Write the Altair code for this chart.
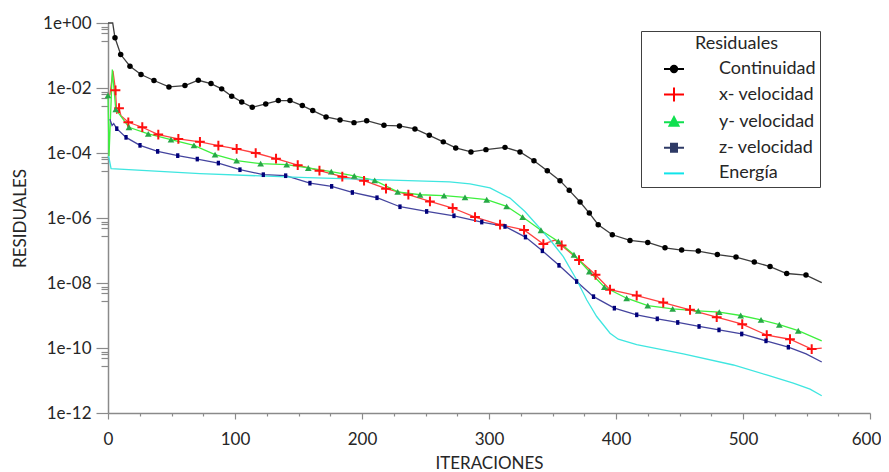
import altair as alt
import pandas as pd

SERIES = ["Continuidad", "x- velocidad", "y- velocidad", "z- velocidad", "Energía"]

# Continuidad
CONT_X = [0, 3.7, 5.5, 10, 17.3, 26, 36.2, 48, 60.6, 71.1, 81.1, 89.5, 97.4, 105.3, 113.6, 124.2,
          134.1, 143.3, 153, 161.2, 171.7, 182.7, 193.7, 203.7, 217.3, 229.5, 241.7, 253, 264,
          273.8, 285.8, 297.6, 312.6, 324.4, 335.4, 345.9, 355.9, 363.2, 371.7, 379, 386, 397.1,
          411, 425, 438.6, 451.7, 464.8, 479.8, 494.5, 508.9, 521.3, 534.4, 549.6, 562]
CONT_Y = [1.0, 1.0, 0.35, 0.107, 0.047, 0.026, 0.017, 0.0108, 0.0119, 0.0173, 0.0137, 0.0094,
          0.0056, 0.0037, 0.00255, 0.00324, 0.0041, 0.0041, 0.00288, 0.00202, 0.00129, 0.00104,
          0.00086, 0.00099, 0.00071, 0.00068, 0.00055, 0.00035, 0.00022, 0.000143, 0.000108,
          0.000127, 0.000149, 0.000108, 5.8e-5, 2.86e-5, 1.41e-5, 7.1e-6, 3.1e-6, 1.42e-6, 6.2e-7,
          3.05e-7, 2.04e-7, 1.77e-7, 1.21e-7, 1.03e-7, 9.6e-8, 7.5e-8, 6.3e-8, 4.4e-8, 3.2e-8,
          1.96e-8, 1.75e-8, 1.03e-8]
CONT_M = [0, 0] + [1] * 51 + [0]

# x- velocidad
XV_X = [1.5, 3.9, 5.9, 6.9, 8.7, 10.2, 16, 27, 39.6, 55.4, 72.4, 86.9, 101.3, 116.3, 132.3, 149.4,
        166.5, 184.5, 201.6, 218.9, 236.5, 253.5, 271.4, 289, 308.7, 327.6, 342.8, 352, 357.2,
        370.9, 383.9, 395.3, 416.3, 437.2, 458.3, 479.3, 499.4, 518.7, 537, 554.1, 562]
XV_Y = [6.0e-3, 0.034, 8.5e-3, 1.6e-3, 2.4e-3, 1.4e-3, 8.8e-4, 6.2e-4, 3.7e-4, 2.7e-4, 2.2e-4,
        1.68e-4, 1.33e-4, 1.0e-4, 6.7e-5, 4.2e-5, 2.86e-5, 1.87e-5, 1.4e-5, 8.0e-6, 5.2e-6,
        3.24e-6, 2.03e-6, 1.07e-6, 6.2e-7, 4.3e-7, 1.58e-7, 2.1e-7, 1.43e-7, 5.1e-8, 1.79e-8,
        6.2e-9, 4.1e-9, 2.5e-9, 1.49e-9, 8.9e-10, 5.4e-10, 2.5e-10, 1.86e-10, 9.3e-11, 9.9e-11]
XV_M = [0, 0, 1, 0, 1, 0, 1, 1, 1, 1, 1, 1, 1, 1, 1, 1, 1, 1, 1, 1, 1, 1, 1, 1, 1, 1, 1, 0, 1,
        1, 1, 1, 1, 1, 1, 1, 1, 1, 1, 1, 0]

# y- velocidad
YV_X = [0, 0.8, 3.4, 6.1, 16.5, 31.7, 49.6, 67.7, 84.3, 101.3, 120.2, 140.7, 157.7, 175.8, 193.9,
        210, 228.1, 245.7, 264.6, 281.1, 298.2, 313.9, 326.5, 340.9, 354.6, 366.9, 379, 390.8,
        408.4, 425, 444.6, 464.8, 481.3, 498.2, 514.2, 528.6, 543.5, 562]
YV_Y = [5.9e-3, 8.0e-5, 0.037, 2.2e-3, 6.2e-4, 3.86e-4, 2.58e-4, 1.72e-4, 8.9e-5, 5.8e-5, 4.7e-5,
        4.4e-5, 3.46e-5, 2.66e-5, 1.98e-5, 1.44e-5, 6.4e-6, 5.2e-6, 4.85e-6, 4.3e-6, 3.65e-6,
        2.27e-6, 1.07e-6, 4.2e-7, 1.9e-7, 7.4e-8, 2.26e-8, 7.5e-9, 3.4e-9, 2.0e-9, 1.6e-9,
        1.39e-9, 1.27e-9, 1.0e-9, 7.3e-10, 5.2e-10, 3.4e-10, 1.66e-10]
YV_M = [1, 0, 0] + [1] * 34 + [0]

# z- velocidad
ZV_X = [1.5, 3.2, 4.5, 6.9, 14.2, 25.2, 39.1, 54.9, 70.3, 86.9, 103.9, 122.3, 139.9, 159, 176.1,
        192.4, 211.8, 229.9, 250.9, 272.4, 294.3, 312.6, 328.7, 342, 355.1, 369, 382.3, 398.7,
        416.3, 432.5, 448.6, 465.4, 481.1, 499, 518.1, 535.7, 549.7, 562]
ZV_Y = [1.1e-3, 7.0e-4, 8.0e-4, 5.6e-4, 3.03e-4, 1.72e-4, 1.12e-4, 8.3e-5, 6.5e-5, 4.9e-5, 3.06e-5,
        2.15e-5, 2.0e-5, 1.18e-5, 9.4e-6, 6.1e-6, 4.2e-6, 2.22e-6, 1.59e-6, 1.17e-6, 7.5e-7,
        5.5e-7, 2.59e-7, 9.8e-8, 3.5e-8, 1.11e-8, 3.8e-9, 1.68e-9, 1.05e-9, 7.9e-10, 6.1e-10,
        4.6e-10, 3.6e-10, 2.7e-10, 1.66e-10, 1.06e-10, 6.6e-11, 3.7e-11]
ZV_M = [0, 0, 0] + [1] * 33 + [0, 0]

# Energía
EN_X = [0, 0.8, 2.4, 72.4, 151, 230, 269, 285, 300.8, 316.5, 328.3, 337.6, 348, 358.5, 369, 377,
        384.8, 395.3, 401.8, 416.3, 453, 492.4, 518.6, 539.6, 552.8, 562]
EN_Y = [8.0e-5, 7.0e-5, 3.3e-5, 2.31e-5, 1.78e-5, 1.44e-5, 1.3e-5, 1.13e-5, 8.4e-6, 4.1e-6, 1.59e-6,
        6.2e-7, 2.14e-7, 6.5e-8, 1.26e-8, 3.0e-9, 9.3e-10, 2.85e-10, 1.87e-10, 1.26e-10, 6.6e-11,
        3.0e-11, 1.48e-11, 8.3e-12, 5.4e-12, 3.4e-12]
EN_M = [0] * 26

X_TICKS = [0, 25, 50, 75, 100, 125, 150, 175, 200, 225, 250, 275, 300, 325, 350, 375, 400, 425,
           450, 475, 500, 525, 550, 575, 600]
Y_MAJOR = [1, 1e-2, 1e-4, 1e-6, 1e-8, 1e-10, 1e-12]
Y_MINOR_FACTORS = [0.78, 0.64, 0.5, 0.27]

# ---- styles ----
LINE_COLORS = ["#3d3d3d", "#ff4040", "#3ef03e", "#44449e", "#3fe6e0"]
LEG_COLORS = ["#000000", "#ff0000", "#10e050", "#2e3a66", "#10e4ea"]
LEG_PATHS = [
    "M-1,0L1,0M-0.32,0A0.32,0.32,0,1,1,0.32,0A0.32,0.32,0,1,1,-0.32,0Z",
    "M-1,0L1,0M0,-0.7L0,0.7",
    "M-1,0L1,0M-0.45,0.35L0,-0.5L0.45,0.35Z",
    "M-1,0L1,0M-0.3,-0.4L0.3,-0.4L0.3,0.4L-0.3,0.4Z",
    "M-1,0L1,0",
]
MARKERS = {
    "Continuidad": dict(shape="circle", size=30, filled=True, color="#000000"),
    "x- velocidad": dict(shape="M-1,0L1,0M0,-1L0,1", size=95, filled=False, color="#ff1010", strokeWidth=2),
    "y- velocidad": dict(shape="triangle-up", size=45, filled=True, color="#27a846"),
    "z- velocidad": dict(shape="M-0.7,-1L0.7,-1L0.7,1L-0.7,1Z", size=22, filled=True, color="#00007a"),
}

rows = []
for name, xs, ys, ms in [
    (SERIES[0], CONT_X, CONT_Y, CONT_M),
    (SERIES[1], XV_X, XV_Y, XV_M),
    (SERIES[2], YV_X, YV_Y, YV_M),
    (SERIES[3], ZV_X, ZV_Y, ZV_M),
    (SERIES[4], EN_X, EN_Y, EN_M),
]:
    for i, (x, y, m) in enumerate(zip(xs, ys, ms)):
        rows.append({"series": name, "iter": x, "res": y, "mk": m, "ord": i})
df = pd.DataFrame(rows)

y_values = Y_MAJOR + [m * f for m in Y_MAJOR[:-1] for f in Y_MINOR_FACTORS]
is_major = "abs(log(datum.value)/LN10 - round(log(datum.value)/LN10)) < 0.001"
exp_expr = "round(log(datum.value)/LN10)"
y_label = (f"{is_major} ? ('1e' + ({exp_expr} >= 0 ? '+' : '-') + (abs({exp_expr}) < 10 ? '0' : '') "
           f"+ abs({exp_expr})) : ''")

TEXT = "#262626"
FONT = "Lato"
NB = "\u00a0"

X = alt.X("iter:Q",
          scale=alt.Scale(domain=[0, 600], nice=False, zero=False),
          axis=alt.Axis(values=X_TICKS, labelExpr="datum.value % 100 === 0 ? datum.label : ''",
                        tickSize={"condition": {"test": "datum.value % 100 === 0", "value": 6}, "value": 3},
                        labelOffset={"condition": {"test": "datum.value === 600", "value": -4}, "value": 0},
                        labelPadding=12, labelOverlap=False, labelFlush=False,
                        title="ITERACIONES", titleY=50, titleBaseline="middle"))
Y = alt.Y("res:Q",
          scale=alt.Scale(type="log", domain=[1e-12, 1], nice=False),
          axis=alt.Axis(values=y_values, labelExpr=y_label,
                        tickSize={"condition": {"test": is_major, "value": 12}, "value": 7},
                        labelPadding=5, labelOverlap=False, labelFlush=False,
                        title="RESIDUALES", titleX=-88, titleY=195, titleBaseline="middle",
                        titleAngle=270))

layers = []
for name, col in zip(SERIES, LINE_COLORS):
    layers.append(
        alt.Chart(df)
        .transform_filter(alt.datum.series == name)
        .mark_line(strokeWidth=1.3, color=col)
        .encode(x=X, y=Y, order="ord:Q")
    )

for name, st in MARKERS.items():
    layers.append(
        alt.Chart(df)
        .transform_filter((alt.datum.series == name) & (alt.datum.mk == 1))
        .mark_point(opacity=1, **st)
        .encode(x=X, y=Y)
    )

leg = alt.Legend(
    title="\u2800Residuales", orient="none", legendX=533, legendY=8,
    titleAnchor="middle", titleFont=FONT, titleFontSize=18, titleFontWeight="normal",
    titleColor=TEXT, titlePadding=5,
    labelFont=FONT, labelFontSize=18, labelColor=TEXT,
    labelExpr="datum.label + '" + NB * 5 + "'",
    symbolSize=400, symbolStrokeWidth=2, symbolOffset=18, labelOffset=34,
    padding=4, rowPadding=5.6, strokeColor="#404040", fillColor="white",
    symbolOpacity=1,
)
legend_layer = alt.Chart(df).mark_point(opacity=0).encode(
    x=X, y=Y,
    fill=alt.Fill("series:N", scale=alt.Scale(domain=SERIES, range=LEG_COLORS), legend=leg),
    stroke=alt.Stroke("series:N", scale=alt.Scale(domain=SERIES, range=LEG_COLORS), legend=leg),
    shape=alt.Shape("series:N", scale=alt.Scale(domain=SERIES, range=LEG_PATHS), legend=leg),
)
layers.append(legend_layer)

chart = alt.layer(*layers).properties(
    width=762, height=390,
    padding={"left": 100, "top": 15, "right": 11, "bottom": 59},
    autosize=alt.AutoSizeParams(type="none"),
).configure_view(stroke=None).configure_axis(
    grid=False, domainColor="#8a8a8a", domainWidth=1.5, tickColor="#8a8a8a", tickWidth=1.2,
    labelFont=FONT, labelFontSize=17, labelColor=TEXT,
    titleFont=FONT, titleFontSize=17, titleFontWeight="normal", titleColor=TEXT,
)

chart.save("out.html", embed_options={"renderer": "svg", "actions": False})
